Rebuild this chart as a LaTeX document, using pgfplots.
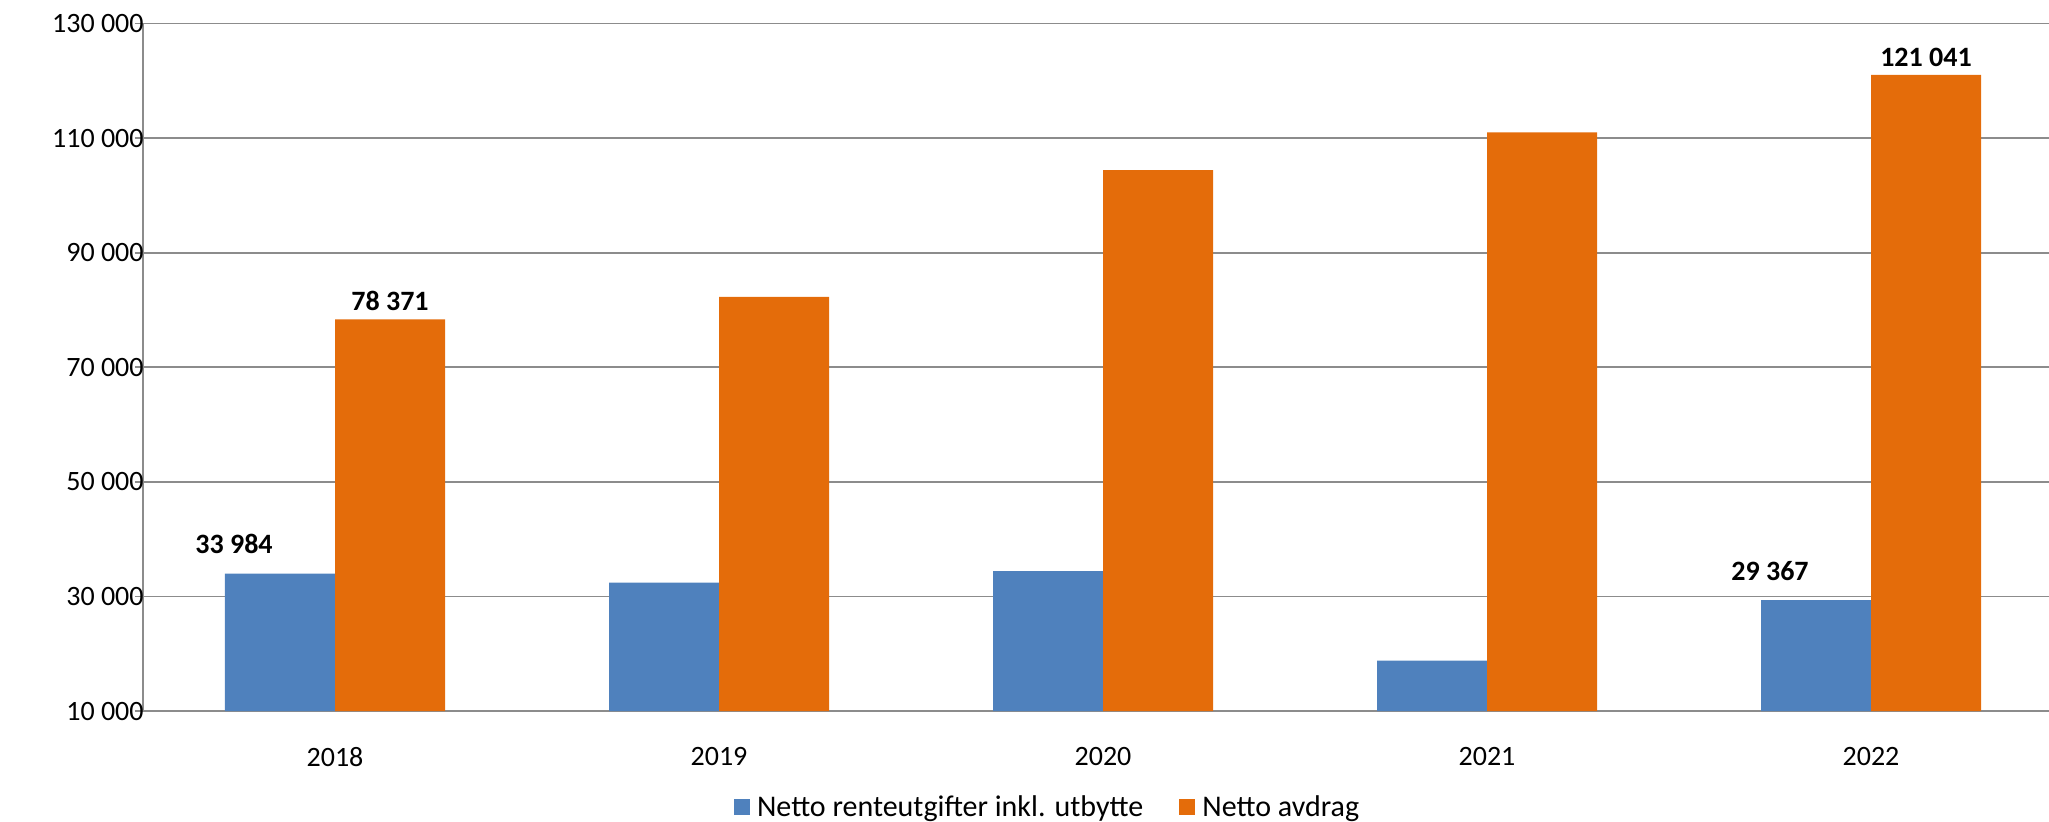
\documentclass[border=0pt]{standalone}
\usepackage{pgfplots}
\pgfplotsset{compat=1.18}
\usepackage{fontspec}
\setmainfont{Carlito}

\definecolor{renteblue}{HTML}{4F81BD}
\definecolor{avdragorange}{HTML}{E46C0A}
\definecolor{gridgray}{HTML}{8C8C8C}

\newcommand{\chartfont}{\fontsize{14}{16}\selectfont}
\newcommand{\legendfont}{\fontsize{15}{17}\selectfont}

\begin{document}
\begin{tikzpicture}
\begin{axis}[
    at={(0pt,0pt)}, anchor=south west,
    scale only axis,
    width=960pt, height=343.75pt,
    xmin=-0.5, xmax=4.5,
    ymin=10000, ymax=130000,
    scaled y ticks=false,
    ybar=0pt, bar width=55pt,
    axis lines*=left,
    axis line style={draw=gridgray, line width=0.9pt, -},
    xtick={0,1,2,3,4},
    xticklabels={2018,2019,2020,2021,2022},
    x tick style={draw=none},
    extra x ticks={-0.5,0.5,1.5,2.5,3.5},
    extra x tick labels={},
    extra x tick style={grid=none, major tick length=4pt,
        tick style={draw=gridgray, line width=0.9pt}},
    ytick={10000,30000,50000,70000,90000,110000,130000},
    yticklabels={10 000,30 000,50 000,70 000,90 000,110 000,130 000},
    ytick pos=left,
    tick align=outside,
    major tick length=4pt,
    y tick style={draw=gridgray, line width=0.9pt},
    ymajorgrids,
    major grid style={draw=gridgray, line width=0.9pt},
    every tick label/.append style={font=\chartfont, inner sep=0pt},
    yticklabel style={font=\chartfont, anchor=east, xshift=4.5pt},
    xticklabel style={anchor=north, yshift=-14pt},
    point meta=explicit symbolic,
    nodes near coords,
    every node near coord/.append style={font=\chartfont\bfseries, inner sep=0pt, anchor=south},
    legend columns=2,
    legend style={draw=none, fill=none, font=\legendfont,
        at={(0.30765,-0.158)}, anchor=south west,
        inner sep=0pt, column sep=3.5pt,
        nodes={inner sep=0pt},
        /tikz/every even column/.append style={column sep=18pt}},
    legend image code/.code={\fill[#1] (0pt,-4pt) rectangle (8pt,4pt);},
]
% net interest expenses incl. dividend
\addplot[fill=renteblue, draw=none,
    every node near coord/.append style={xshift=-23pt, yshift=9.5pt}]
    coordinates {
    (0,33984) [33 984]
    (1,32400) []
    (2,34400) []
    (3,18800) []
    (4,29367) [29 367]
};
% net instalments
\addplot[fill=avdragorange, draw=none,
    every node near coord/.append style={yshift=4pt}]
    coordinates {
    (0,78371) [78 371]
    (1,82300) []
    (2,104400) []
    (3,111000) []
    (4,121041) [121 041]
};
\legend{Netto renteutgifter inkl. utbytte, Netto avdrag}
\end{axis}
\pgfresetboundingbox
\useasboundingbox (-71.5pt,-55pt) rectangle (953pt,355.5pt);
\end{tikzpicture}
\end{document}
